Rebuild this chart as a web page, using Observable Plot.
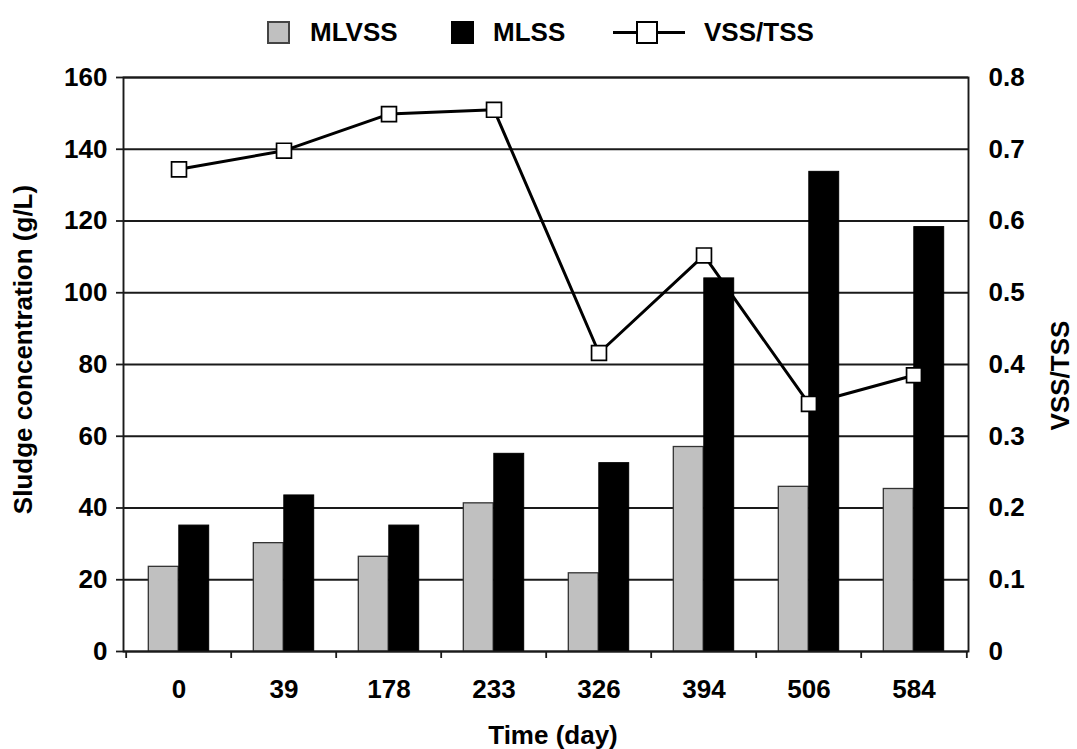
<!DOCTYPE html>
<html>
<head>
<meta charset="utf-8">
<script src="https://cdn.jsdelivr.net/npm/d3@7"></script>
<script src="https://cdn.jsdelivr.net/npm/@observablehq/plot@0.6"></script>
<style>
  body { margin: 0; background: #fff; font-family: "Liberation Sans", Arial, sans-serif; }
  #legend { position: relative; width: 1077px; height: 60px; font-weight: bold; font-size: 26px; color: #000; }
  #legend .t { position: absolute; top: 17px; line-height: 30px; white-space: nowrap; }
  #legend .sw { position: absolute; top: 21px; width: 19px; height: 19px; }
  #legend .ln { position: absolute; top: 31px; height: 3px; background: #000; }
  #legend .mk { position: absolute; top: 21px; width: 18px; height: 19px; background: #fff; border: 2px solid #000; }
  #chart svg { display: block; }
</style>
</head>
<body>
<div id="legend">
  <div class="sw" style="left:267px;background:#c0c0c0;border:2px solid #444;"></div>
  <div class="t" style="left:310px;">MLVSS</div>
  <div class="sw" style="left:451px;background:#000;border:2px solid #000;"></div>
  <div class="t" style="left:493px;">MLSS</div>
  <div class="ln" style="left:613px;width:72px;"></div>
  <div class="mk" style="left:636px;"></div>
  <div class="t" style="left:704px;">VSS/TSS</div>
</div>
<div id="chart"></div>
<script>
// ---- data ----
const days = ["0", "39", "178", "233", "326", "394", "506", "584"];
const mlvss = [23.6, 30.2, 26.4, 41.3, 21.8, 57.0, 45.9, 45.3];
const mlss = [35.1, 43.5, 35.1, 55.1, 52.5, 104.0, 133.7, 118.3];
const vssTss = [0.672, 0.698, 0.749, 0.755, 0.416, 0.552, 0.345, 0.385];
const leftTicks = [0, 20, 40, 60, 80, 100, 120, 140, 160];
const rightTicks = [0, 0.1, 0.2, 0.3, 0.4, 0.5, 0.6, 0.7, 0.8];

// ---- layout ----
const W = 1077, H = 689;
const mL = 123, mR = 109, mT = 17, mB = 98;
const k = leftTicks[leftTicks.length - 1] / rightTicks[rightTicks.length - 1]; // ratio -> left-axis units
const bw = (W - mL - mR) / days.length;
const half = bw / 2;
const barW = 30.5;

const rows = days.map((d, i) => ({day: d, mlvss: mlvss[i], mlss: mlss[i], ratio: vssTss[i]}));

const chart = Plot.plot({
  width: W,
  height: H,
  marginLeft: mL,
  marginRight: mR,
  marginTop: mT,
  marginBottom: mB,
  style: {fontFamily: '"Liberation Sans", Arial, sans-serif', fontSize: "26px", fontWeight: "bold", color: "#000", background: "#fff"},
  x: {domain: days, paddingInner: 0, paddingOuter: 0, axis: null},
  y: {domain: [0, 160], axis: null},
  marks: [
    Plot.ruleY(leftTicks, {stroke: "#1a1a1a", strokeWidth: 1.9}),
    Plot.barY(rows, {x: "day", y: "mlvss", fill: "#c0c0c0", stroke: "#333", strokeWidth: 1.3, insetLeft: half - barW, insetRight: half}),
    Plot.barY(rows, {x: "day", y: "mlss", fill: "#000", stroke: "#000", strokeWidth: 1, insetLeft: half, insetRight: half - barW}),
    Plot.frame({stroke: "#1a1a1a", strokeWidth: 1.9}),
    Plot.ruleX(days, {x: d => d, dx: -half, y1: 0, y2: 0, insetBottom: -7, stroke: "#1a1a1a", strokeWidth: 1.8}),
    Plot.ruleX([days[days.length - 1]], {x: d => d, dx: half, y1: 0, y2: 0, insetBottom: -7, stroke: "#1a1a1a", strokeWidth: 1.8}),
    Plot.axisY(leftTicks, {anchor: "left", tickSize: 7, tickPadding: 9, label: null, stroke: "#1a1a1a", strokeWidth: 1.8}),
    Plot.axisY(rightTicks.map(r => r * k), {anchor: "right", tickSize: 0, tickPadding: 20, label: null, tickFormat: v => v === 0 ? "0" : (v / k).toFixed(1)}),
    Plot.axisX(days, {anchor: "bottom", tickSize: 0, tickPadding: 28, label: null}),
    Plot.line(rows, {x: "day", y: d => d.ratio * k, stroke: "#000", strokeWidth: 3}),
    Plot.dot(rows, {x: "day", y: d => d.ratio * k, symbol: "square", r: 8.4, fill: "#fff", stroke: "#000", strokeWidth: 1.7}),
    Plot.text(["Time (day)"], {frameAnchor: "bottom", text: d => d, dx: 7, dy: 84, lineAnchor: "middle", textAnchor: "middle"}),
    Plot.text(["Sludge concentration (g/L)"], {frameAnchor: "left", text: d => d, dx: -100, dy: -15, rotate: -90, lineAnchor: "middle", textAnchor: "middle"}),
    Plot.text(["VSS/TSS"], {frameAnchor: "right", text: d => d, dx: 92, dy: 11, rotate: -90, lineAnchor: "middle", textAnchor: "middle"})
  ]
});
document.getElementById("chart").appendChild(chart);
</script>
</body>
</html>
